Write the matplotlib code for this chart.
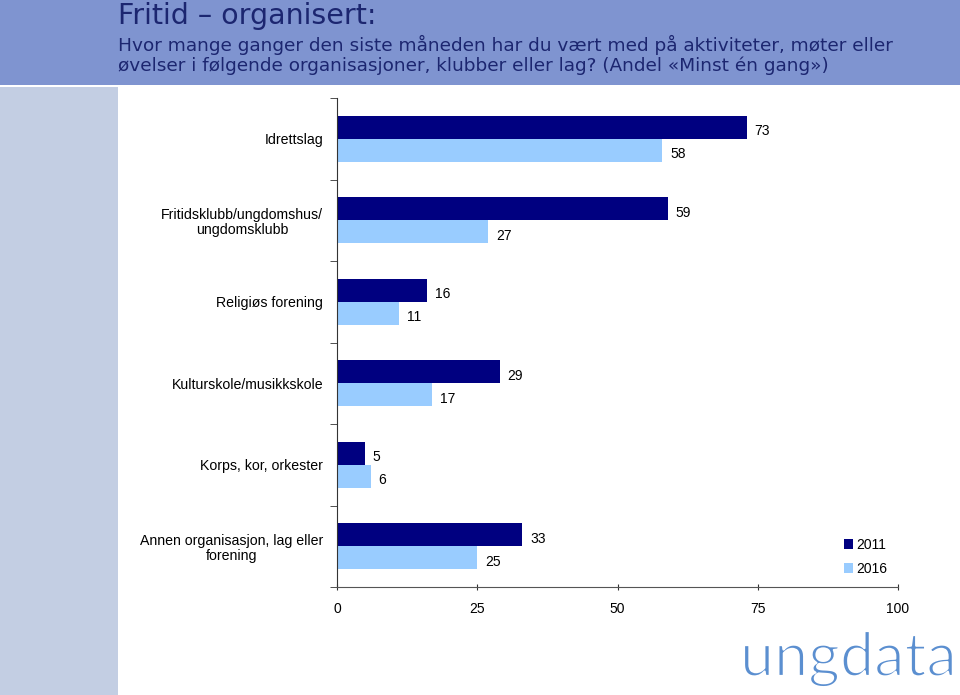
import matplotlib

matplotlib.use("Agg")
import matplotlib.pyplot as plt
import matplotlib.patheffects as pe
import numpy as np
from matplotlib.patches import Rectangle

categories = [
    "Idrettslag",
    "Fritidsklubb/ungdomshus/\nungdomsklubb",
    "Religiøs forening",
    "Kulturskole/musikkskole",
    "Korps, kor, orkester",
    "Annen organisasjon, lag eller\nforening",
]
values_2011 = [73, 59, 16, 29, 5, 33]
values_2016 = [58, 27, 11, 17, 6, 25]
series_labels = ["2011", "2016"]
x_ticks = [0, 25, 50, 75, 100]

COLORS = {
    "header": "#7f94d0",
    "strip": "#c3cee3",
    "title": "#1c2670",
    "dark": "#000080",
    "light": "#99ccff",
    "text": "#000000",
    "logo": "#5b8fd0",
}

plt.rcParams["font.family"] = ["Liberation Sans", "DejaVu Sans"]

fig = plt.figure(figsize=(9.6, 6.95), dpi=100, facecolor="white")

# header band and left strip
fig.patches.append(Rectangle((0, 1 - 85 / 695), 1, 85 / 695, transform=fig.transFigure,
                             facecolor=COLORS["header"], edgecolor="none", zorder=0))
fig.patches.append(Rectangle((0, 0), 118 / 960, 1 - 87 / 695, transform=fig.transFigure,
                             facecolor=COLORS["strip"], edgecolor="none", zorder=0))

head_font = ["DejaVu Sans"]
fig.text(118 / 960, 1 - 16 / 695, "Fritid – organisert:", fontsize=20.5, color=COLORS["title"],
         va="center", ha="left", family=head_font)
fig.text(118 / 960, 1 - 45 / 695, "Hvor mange ganger den siste måneden har du vært med på aktiviteter, møter eller",
         fontsize=13.3, color=COLORS["title"], va="center", ha="left", family=head_font)
fig.text(118 / 960, 1 - 66 / 695, "øvelser i følgende organisasjoner, klubber eller lag? (Andel «Minst én gang»)",
         fontsize=13.3, color=COLORS["title"], va="center", ha="left", family=head_font)

ax = fig.add_axes([337 / 960, 1 - 587 / 695, (898 - 337) / 960, (587 - 98) / 695])

y = np.arange(len(categories))
h = 0.28
ax.barh(y - h / 2, values_2011, height=h, color=COLORS["dark"], label=series_labels[0])
ax.barh(y + h / 2, values_2016, height=h, color=COLORS["light"], label=series_labels[1])

for i, (a, b) in enumerate(zip(values_2011, values_2016)):
    ax.text(a + 1.4, i - h / 2 + 0.05, f"{a}", va="center", ha="left", fontsize=10)
    ax.text(b + 1.4, i + h / 2 + 0.05, f"{b}", va="center", ha="left", fontsize=10)

ax.set_xlim(0, 100)
ax.set_ylim(len(categories) - 0.5, -0.5)
ax.set_xticks(x_ticks)
ax.set_xticklabels([str(t) for t in x_ticks], fontsize=10)
ax.set_yticks(y)
ax.set_yticklabels(categories, fontsize=10.2, linespacing=1.15, multialignment="center")
ax.set_yticks(np.arange(len(categories) + 1) - 0.5, minor=True)
ax.tick_params(axis="y", which="major", length=0, pad=10)
ax.tick_params(axis="y", which="minor", length=5, direction="out", color="#333333")
ax.tick_params(axis="x", length=5, direction="inout", pad=8, color="#333333")

for side in ["top", "right"]:
    ax.spines[side].set_visible(False)
ax.spines["left"].set_color("#333333")
ax.spines["bottom"].set_color("#555555")

ax.legend(loc="center left", bbox_to_anchor=(831 / 960, 1 - 557 / 695),
          bbox_transform=fig.transFigure, frameon=False, fontsize=10,
          handlelength=0.7, handleheight=0.7, handletextpad=0.2, labelspacing=0.7)

# logo, thinned with a white stroke on top
fig.text(957 / 960, 1 - 676 / 695, "ungdata", fontsize=44, color=COLORS["logo"],
         ha="right", va="baseline", family=["Lato", "DejaVu Sans"],
         path_effects=[pe.Normal(), pe.Stroke(linewidth=1.6, foreground="white")])

fig.savefig("out.png", dpi=100, facecolor="white")
